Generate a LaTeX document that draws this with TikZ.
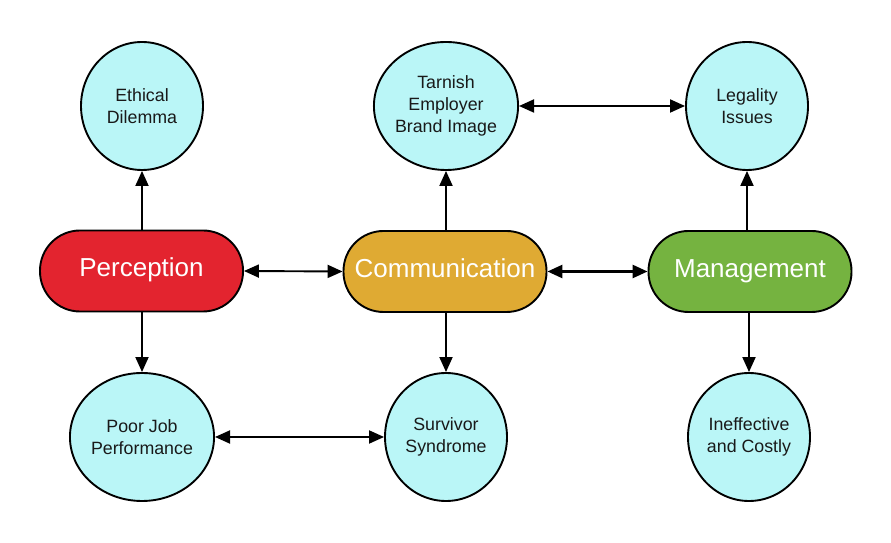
\documentclass[tikz,border=0pt]{standalone}
\usepackage{fontspec}
\setmainfont{Liberation Sans}
\usetikzlibrary{shapes.geometric,arrows.meta}
\definecolor{pred}{RGB}{227,36,47}
\definecolor{porange}{RGB}{223,170,51}
\definecolor{pgreen}{RGB}{117,179,64}
\definecolor{pcyan}{RGB}{186,246,247}
\begin{document}
\begin{tikzpicture}[x=1pt,y=1pt,
  pill/.style={draw=black,line width=1.9pt,rounded corners=40pt,minimum width=203pt,minimum height=81pt,inner sep=0pt,text=white,text height=18.6pt,text depth=6.6pt,font=\fontsize{26}{30}\selectfont},
  bubble/.style={ellipse,draw=black,line width=1.9pt,fill=pcyan,minimum width=122pt,minimum height=128pt,inner sep=0pt,align=center,text=black!90,font=\fontsize{17.8}{22}\selectfont},
  conn/.style={line width=1.9pt,-{Triangle[length=15pt,width=13pt]}},
  dconn/.style={line width=1.9pt,{Triangle[length=15pt,width=13pt]}-{Triangle[length=15pt,width=13pt]}}]
\path[fill=white] (0,0) rectangle (891,543);
\node[pill,fill=pred] (per) at (141.5,272) {Perception};
\node[pill,fill=porange] (com) at (445,271.5) {Communication};
\node[pill,fill=pgreen] (man) at (750,271.5) {Management};
\node[bubble] (eth) at (142,437) {Ethical\\Dilemma};
\node[bubble] (tar) at (446,437) {Tarnish\\Employer\\Brand Image};
\node[bubble] (leg) at (747,437) {Legality\\Issues};
\node[bubble] (poor) at (142,106) {Poor Job\\Performance};
\node[bubble] (sur) at (446,106) {Survivor\\Syndrome};
\node[bubble] (ine) at (749,106) {Ineffective\\and Costly};
\draw[conn] (per.north -| eth.south) -- (eth.south);
\draw[conn] (per.south -| poor.north) -- (poor.north);
\draw[conn] (com.north -| tar.south) -- (tar.south);
\draw[conn] (com.south -| sur.north) -- (sur.north);
\draw[conn] (man.north -| leg.south) -- (leg.south);
\draw[conn] (man.south -| ine.north) -- (ine.north);
\draw[dconn] (per.east) -- (com.west);
\draw[dconn,line width=2.6pt] (com.east) -- (man.west);
\draw[dconn] (tar.east) -- (leg.west);
\draw[dconn] (poor.east) -- (sur.west);
\end{tikzpicture}
\end{document}
